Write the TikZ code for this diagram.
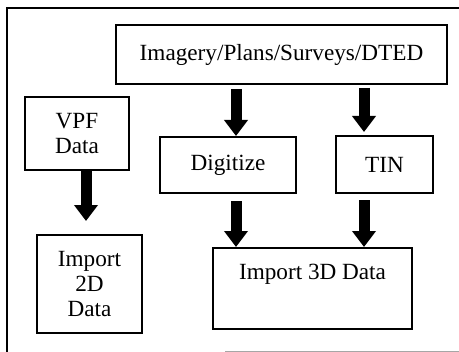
\documentclass[tikz,border=0pt]{standalone}
\usepackage{fontspec}
\setmainfont{Liberation Serif}
\usepackage{tikz}
\usetikzlibrary{shapes,arrows,positioning,calc,arrows.meta}

\begin{document}
\begin{tikzpicture}[x=0.5pt,y=-0.5pt,
    box/.style={draw, line width=1pt, align=center, inner sep=0pt,
        font=\fontsize{11.6}{12.6}\selectfont},
    fatarrow/.style={line width=5.5pt, -{Triangle[width=11.5pt,length=8pt]}}]
    \useasboundingbox (0,0) rectangle (459,352);
    \draw[line width=1pt] (459,8.5) -| (7,352);
    \draw[gray!70] (225,351) -- (459,351);

    \node[box, minimum width=165.5pt, minimum height=29.5pt] (img) at (281.5,54.5) {Imagery/Plans/Surveys/DTED};
    \node[box, minimum width=52pt, minimum height=36.5pt] (vpf) at (77,133.5) {VPF\\Data};
    \node[box, minimum width=68pt, minimum height=28pt] (dig) at (228,165) {Digitize};
    \node[box, minimum width=48.5pt, minimum height=28.5pt] (tin) at (384.5,164.5) {TIN};
    \node[box, minimum width=52.5pt, minimum height=49pt] (imp2) at (89.5,284) {Import\\2D\\Data};
    \node[box, minimum width=99.5pt, minimum height=40.5pt, text depth=17pt] (imp3) at (312.5,288.5) {Import 3D Data};

    \draw[fatarrow] ($(img.south -| dig.north)+(8,4)$) -- ($(dig.north)+(8,0)$);
    \draw[fatarrow] ($(img.south -| tin.north)+(-20.5,3)$) -- ($(tin.north)+(-20.5,-3)$);
    \draw[fatarrow] ($(vpf.south)+(9,0)$) -- ($(imp2.north)+(-3.5,-13)$);
    \draw[fatarrow] ($(dig.south)+(8,7)$) -- ($(dig.south |- imp3.north)+(8,0)$);
    \draw[fatarrow] ($(tin.south)+(-20.5,6)$) -- ($(tin.south |- imp3.north)+(-20.5,0)$);
\end{tikzpicture}
\end{document}
